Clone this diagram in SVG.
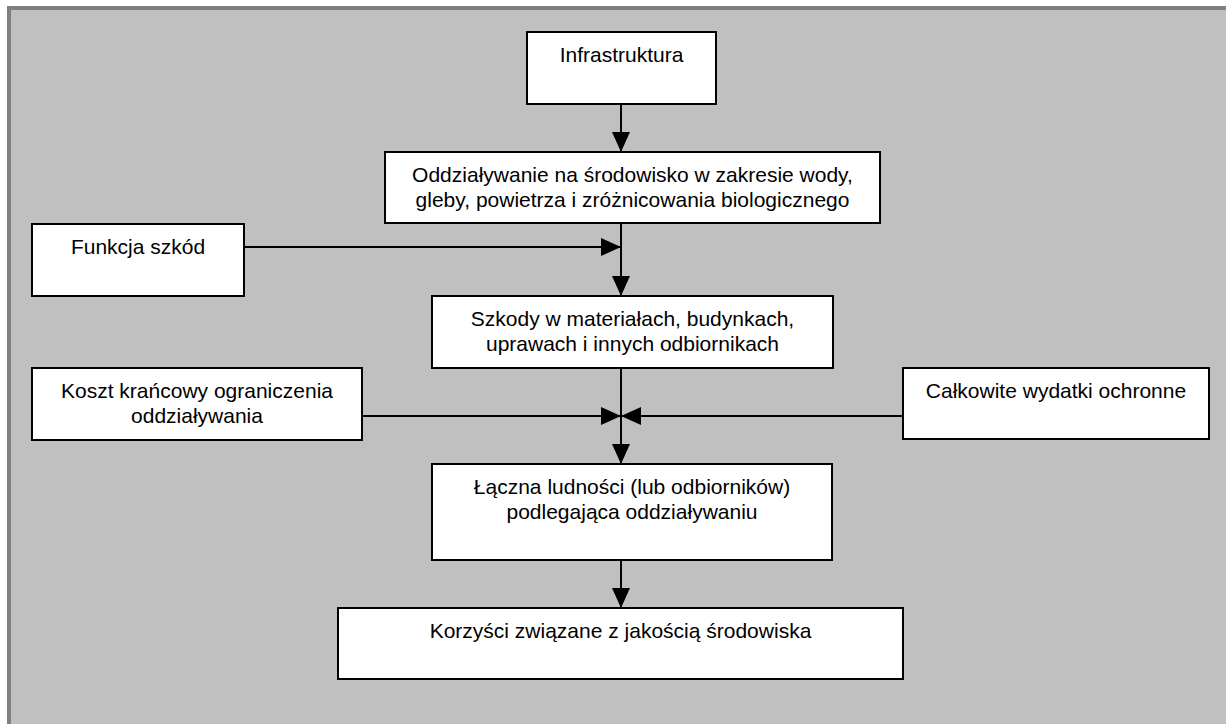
<svg xmlns="http://www.w3.org/2000/svg" width="1226" height="724" viewBox="0 0 1226 724">
<style>
.box{fill:#fff;stroke:#000;stroke-width:2}
.t{font-family:"Liberation Sans",Arial,sans-serif;font-size:21px;fill:#000;text-anchor:middle}
.c{stroke:#000;stroke-width:2;fill:none;marker-end:url(#ah)}
</style>
<defs>
<marker id="ah" markerUnits="userSpaceOnUse" markerWidth="20" markerHeight="18" refX="20" refY="9" orient="auto" viewBox="0 0 20 18">
<path d="M0,0 L20,9 L0,18 Z" fill="#000"/>
</marker>
</defs>
<rect x="0" y="0" width="1226" height="724" fill="#fff"/>
<rect x="7" y="6" width="1219" height="718" fill="#808080"/>
<rect x="11" y="10" width="1215" height="714" fill="#c0c0c0"/>
<g id="connectors">
<path class="c" d="M621,104 V152"/>
<path class="c" d="M244,247 H621"/>
<path class="c" d="M621,223 V296"/>
<path class="c" d="M362,416 H621"/>
<path class="c" d="M903,416 H621"/>
<path class="c" d="M621,368 V464"/>
<path class="c" d="M621,560 V608"/>
</g>
<g id="n1"><rect class="box" x="527" y="32" width="189" height="72"/><text class="t" x="621.5" y="62">Infrastruktura</text></g>
<g id="n2"><rect class="box" x="385" y="152" width="495" height="71"/><text class="t" x="632.5" y="182">Oddziaływanie na środowisko w zakresie wody,</text><text class="t" x="632.5" y="207">gleby, powietrza i zróżnicowania biologicznego</text></g>
<g id="n3"><rect class="box" x="32" y="224" width="212" height="72"/><text class="t" x="138" y="254">Funkcja szkód</text></g>
<g id="n4"><rect class="box" x="432" y="296" width="401" height="72"/><text class="t" x="632.5" y="326">Szkody w materiałach, budynkach,</text><text class="t" x="632.5" y="351">uprawach i innych odbiornikach</text></g>
<g id="n5"><rect class="box" x="32" y="368" width="330" height="72"/><text class="t" x="197" y="398">Koszt krańcowy ograniczenia</text><text class="t" x="197" y="423">oddziaływania</text></g>
<g id="n6"><rect class="box" x="903" y="368" width="306" height="71"/><text class="t" x="1056" y="398">Całkowite wydatki ochronne</text></g>
<g id="n7"><rect class="box" x="432" y="464" width="400" height="96"/><text class="t" x="632" y="494">Łączna ludności (lub odbiorników)</text><text class="t" x="632" y="519">podlegająca oddziaływaniu</text></g>
<g id="n8"><rect class="box" x="338" y="608" width="565" height="71"/><text class="t" x="620.5" y="638">Korzyści związane z jakością środowiska</text></g>
</svg>
